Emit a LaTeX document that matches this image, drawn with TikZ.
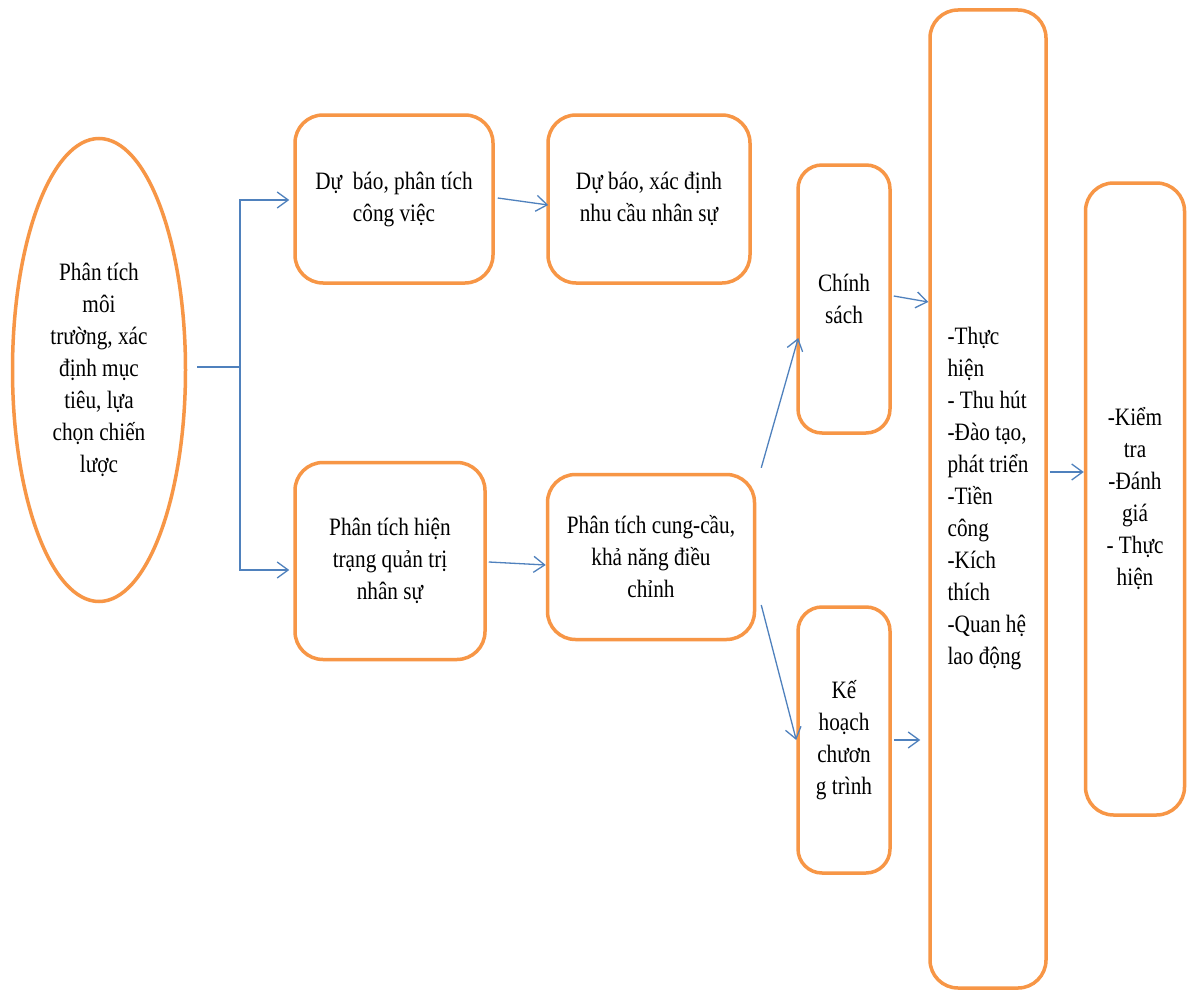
\documentclass[tikz,border=0pt]{standalone}
\usepackage{fontspec}
\setmainfont[FakeStretch=0.85]{Liberation Serif}
\usetikzlibrary{shapes.geometric,arrows.meta,calc}
\definecolor{org}{HTML}{F79646}
\definecolor{blu}{HTML}{4F81BD}
\begin{document}
\begin{tikzpicture}[x=1pt,y=-1pt,
  box/.style={draw=org,line width=3.5pt,rounded corners=28pt,fill=white,align=center,
    font=\fontsize{25}{32}\selectfont,inner sep=0pt},
  ell/.style={draw=org,line width=3.5pt,ellipse,fill=white,align=center,
    font=\fontsize{25}{32}\selectfont,inner sep=0pt},
  arr/.style={draw=blu,line width=1.3pt,-{Straight Barb[length=11pt,width=16pt]}},
  ln/.style={draw=blu,line width=1.3pt}]
\useasboundingbox (0,0) rectangle (1189,990);
\fill[white] (0,0) rectangle (1189,990);

\node[ell,minimum width=173pt,minimum height=463pt] (ell) at (99,370)
  {Phân tích\\môi\\trường, xác\\định mục\\tiêu, lựa\\chọn chiến\\lược};
\node[box,minimum width=198pt,minimum height=168pt] (b1) at (394,199)
  {Dự\ \ báo, phân tích\\công việc};
\node[box,minimum width=202pt,minimum height=168pt] (b2) at (649,199)
  {Dự báo, xác định\\nhu cầu nhân sự};
\node[box,minimum width=190pt,minimum height=197pt] (b3) at (390,561)
  {Phân tích hiện\\trạng quản trị\\nhân sự};
\node[box,minimum width=207pt,minimum height=165pt] (b4) at (651,557)
  {Phân tích cung-cầu,\\khả năng điều\\chỉnh};
\node[box,rounded corners=24pt,minimum width=92pt,minimum height=268pt] (cs) at (844,299)
  {Chính\\sách};
\node[box,rounded corners=24pt,minimum width=92pt,minimum height=266pt] (kh) at (844,740)
  {Kế\\hoạch\\chươn\\g trình};
\node[box,align=left,minimum width=116pt,minimum height=978pt] (big) at (988,499)
  {-Thực\\hiện\\- Thu hút\\-Đào tạo,\\phát triển\\-Tiền\\công\\-Kích\\thích\\-Quan hệ\\lao động};
\node[box,minimum width=99pt,minimum height=632pt] (rt) at (1135,499)
  {-Kiểm\\tra\\-Đánh\\giá\\- Thực\\hiện};

\coordinate (j) at (240,367);
\draw[ln] ($(ell.east)+(10,-3)$) -- (j);
\draw[arr] (j) |- ($(b1.west)+(-4,1)$);
\draw[arr] (j) |- ($(b3.west)+(-4,9)$);
\draw[arr] ($(b1.east)+(3,-1)$) -- ($(b2.west)+(2,6)$);
\draw[arr] ($(b3.east)+(2,1)$) -- ($(b4.west)+(0,8)$);
\draw[arr] ($(b4.north east)+(5,-5)$) -- ($(cs.west)+(2,39)$);
\draw[arr] ($(b4.east)+(5,48)$) -- (kh.west);
\draw[arr] ($(cs.east)+(2,-3)$) -- ($(big.west|-cs.east)+(0,3)$);
\draw[arr] ($(kh.east)+(2,0)$) -- ($(big.west|-kh.east)+(-8,0)$);
\draw[arr] ($(big.east)+(2,-27)$) -- ($(rt.west|-big.east)+(0,-27)$);
\end{tikzpicture}
\end{document}
